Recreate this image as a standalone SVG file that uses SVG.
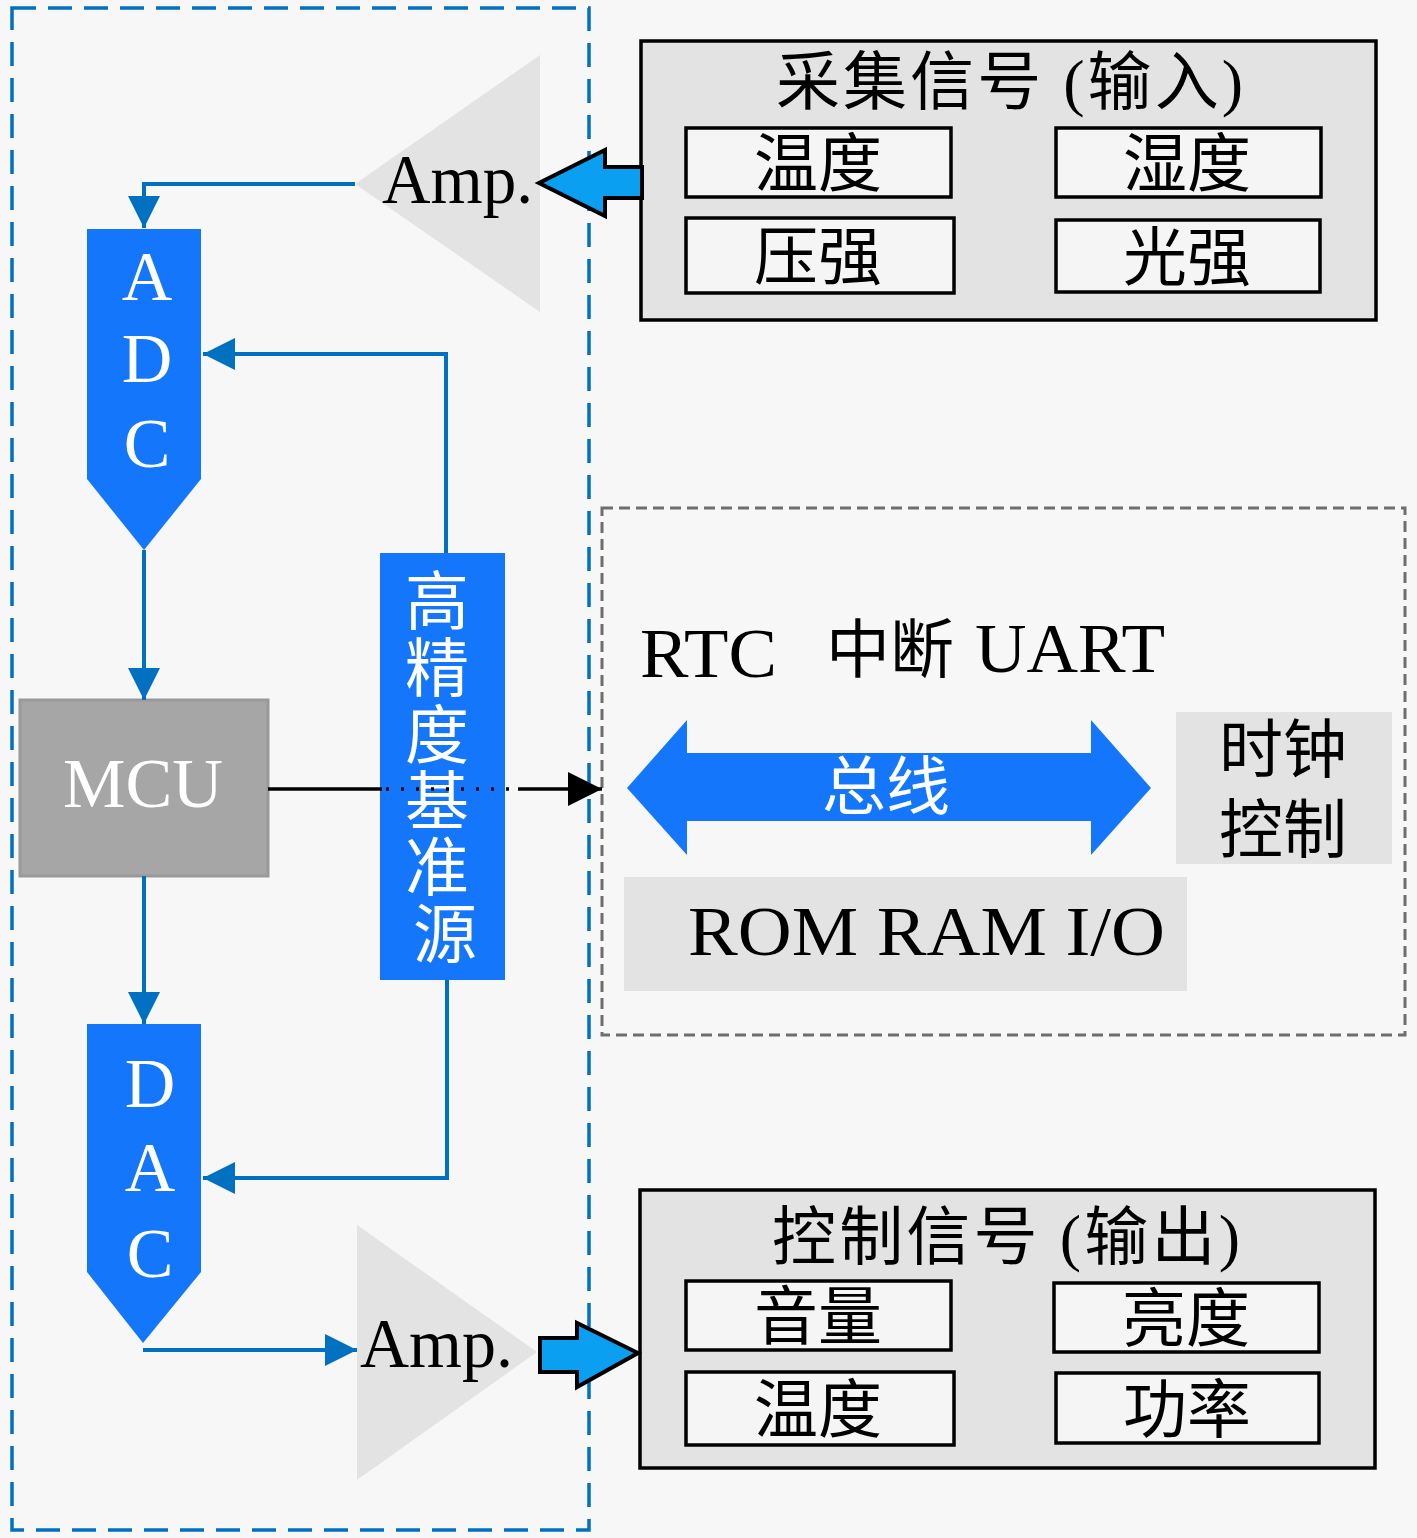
<svg xmlns="http://www.w3.org/2000/svg" width="1417" height="1538" viewBox="0 0 1417 1538">
<style>
.conn{stroke:#0070c0;stroke-width:4;fill:none}
.blk{stroke:#000;stroke-width:3.5;fill:none}
.blue{fill:#1477fb}
.lat{font-family:"Liberation Serif",serif;font-size:70px}
.cjk{font-family:"Liberation Serif","Noto Sans CJK SC",sans-serif;font-size:64px}
.w{fill:#fff}
.k{fill:#000}
.sub{fill:#f5f5f5;stroke:#000;stroke-width:3.5}
.panel{fill:#e3e3e3;stroke:#000;stroke-width:3.5}
.tri{fill:#e3e3e3}
.blockarrow{fill:#0a9ff0;stroke:#000;stroke-width:4;stroke-linejoin:miter}
</style>
<defs>
<marker id="ahb" markerUnits="userSpaceOnUse" markerWidth="34" markerHeight="34" refX="32" refY="16" orient="auto">
<path d="M0,0 L32,16 L0,32 z" fill="#0070c0"/>
</marker>
<marker id="ahk" markerUnits="userSpaceOnUse" markerWidth="36" markerHeight="36" refX="34" refY="17" orient="auto">
<path d="M0,0 L34,17 L0,34 z" fill="#000"/>
</marker>
</defs>
<rect width="1417" height="1538" fill="#f7f7f7"/>

<g id="frame-left">
<rect x="12" y="8" width="577" height="1522" fill="none" stroke="#0070c0" stroke-width="3.5" stroke-dasharray="24 12"/>
</g>
<g id="frame-right">
<rect x="602" y="508" width="803" height="527" fill="none" stroke="#6e6e6e" stroke-width="3" stroke-dasharray="11 6"/>
</g>

<g id="amp-in">
<polygon class="tri" points="540,55 540,312 355,184"/>
<text class="lat k" x="382" y="203" textLength="151" lengthAdjust="spacingAndGlyphs">Amp.</text>
</g>

<g id="amp-out">
<polygon class="tri" points="357,1225 357,1480 537,1352"/>
<text class="lat k" x="360" y="1367" textLength="153" lengthAdjust="spacingAndGlyphs">Amp.</text>
</g>

<g id="adc">
<polygon class="blue" points="87,229 201,229 201,479 144,550 87,479"/>
<text class="lat w" text-anchor="middle" x="147" y="300">A</text>
<text class="lat w" text-anchor="middle" x="147" y="382">D</text>
<text class="lat w" text-anchor="middle" x="147" y="467">C</text>
</g>

<g id="mcu">
<rect x="20" y="700" width="248" height="176" fill="#a6a6a6" stroke="#999" stroke-width="3"/>
<text class="lat w" x="63" y="807" textLength="160" lengthAdjust="spacingAndGlyphs">MCU</text>
</g>

<g id="dac">
<polygon class="blue" points="87,1024 201,1024 201,1272 143,1343 87,1272"/>
<text class="lat w" text-anchor="middle" x="150" y="1107">D</text>
<text class="lat w" text-anchor="middle" x="150" y="1191">A</text>
<text class="lat w" text-anchor="middle" x="150" y="1277">C</text>
</g>

<g id="ref">
<rect class="blue" x="380" y="553" width="125" height="427"/>
<text class="cjk w" text-anchor="middle">
<tspan x="445" y="624">高</tspan>
<tspan x="445" y="691">精</tspan>
<tspan x="445" y="758">度</tspan>
<tspan x="445" y="824">基</tspan>
<tspan x="445" y="890">准</tspan>
<tspan x="445" y="957">源</tspan>
</text>
</g>

<g id="input">
<rect class="panel" x="641" y="41" width="735" height="279"/>
<text class="cjk k" x="776" y="104" textLength="467" lengthAdjust="spacing">采集信号 (输入)</text>
<rect class="sub" x="686" y="128" width="265" height="69"/>
<text class="cjk k" text-anchor="middle" x="818" y="186">温度</text>
<rect class="sub" x="1056" y="128" width="265" height="69"/>
<text class="cjk k" text-anchor="middle" x="1187" y="186">湿度</text>
<rect class="sub" x="686" y="218" width="268" height="75"/>
<text class="cjk k" text-anchor="middle" x="818" y="279">压强</text>
<rect class="sub" x="1056" y="220" width="264" height="72"/>
<text class="cjk k" text-anchor="middle" x="1187" y="280">光强</text>
</g>

<g id="output">
<rect class="panel" x="640" y="1190" width="735" height="278"/>
<text class="cjk k" x="772" y="1259" textLength="468" lengthAdjust="spacing">控制信号 (输出)</text>
<rect class="sub" x="686" y="1281" width="265" height="69"/>
<text class="cjk k" text-anchor="middle" x="818" y="1339">音量</text>
<rect class="sub" x="1054" y="1283" width="265" height="69"/>
<text class="cjk k" text-anchor="middle" x="1186" y="1341">亮度</text>
<rect class="sub" x="686" y="1372" width="268" height="73"/>
<text class="cjk k" text-anchor="middle" x="818" y="1432">温度</text>
<rect class="sub" x="1056" y="1373" width="263" height="70"/>
<text class="cjk k" text-anchor="middle" x="1187" y="1432">功率</text>
</g>

<g id="peripherals">
<text class="lat k" x="640" y="677" textLength="137" lengthAdjust="spacingAndGlyphs">RTC</text>
<text class="cjk k" text-anchor="middle" x="890" y="672">中断</text>
<text class="lat k" x="975" y="672" textLength="190" lengthAdjust="spacingAndGlyphs">UART</text>
</g>

<g id="bus">
<polygon class="blue" points="627,788 687,720 687,753 1091,753 1091,720 1151,788 1091,855 1091,821 687,821 687,855"/>
<text class="cjk w" text-anchor="middle" x="886" y="809">总线</text>
</g>

<g id="clock">
<rect x="1176" y="712" width="216" height="152" fill="#e3e3e3"/>
<text class="cjk k" text-anchor="middle" x="1283" y="772">时钟</text>
<text class="cjk k" text-anchor="middle" x="1283" y="852">控制</text>
</g>

<g id="memory">
<rect x="624" y="877" width="563" height="114" fill="#e3e3e3"/>
<text class="lat k" x="688" y="955" textLength="477" lengthAdjust="spacingAndGlyphs">ROM RAM I/O</text>
</g>

<g id="connectors">
<path class="conn" d="M355,184 H144 V228" marker-end="url(#ahb)"/>
<path class="conn" d="M144,550 V700" marker-end="url(#ahb)"/>
<path class="conn" d="M144,876 V1024" marker-end="url(#ahb)"/>
<path class="conn" d="M446,553 V354 H203" marker-end="url(#ahb)"/>
<path class="conn" d="M447,980 V1178 H203" marker-end="url(#ahb)"/>
<path class="conn" d="M143,1350 H357" marker-end="url(#ahb)"/>
<path class="blk" d="M268,789 H382"/>
<path stroke="#000" stroke-width="3.5" fill="none" stroke-dasharray="3 12" d="M386,789 H516"/>
<path class="blk" d="M518,789 H602" marker-end="url(#ahk)"/>
<polygon class="blockarrow" points="642,167 605,167 605,150 539,183 605,216 605,198 642,198"/>
<polygon class="blockarrow" points="540,1338 577,1338 577,1323 638,1353 577,1387 577,1372 540,1372"/>
</g>
</svg>
